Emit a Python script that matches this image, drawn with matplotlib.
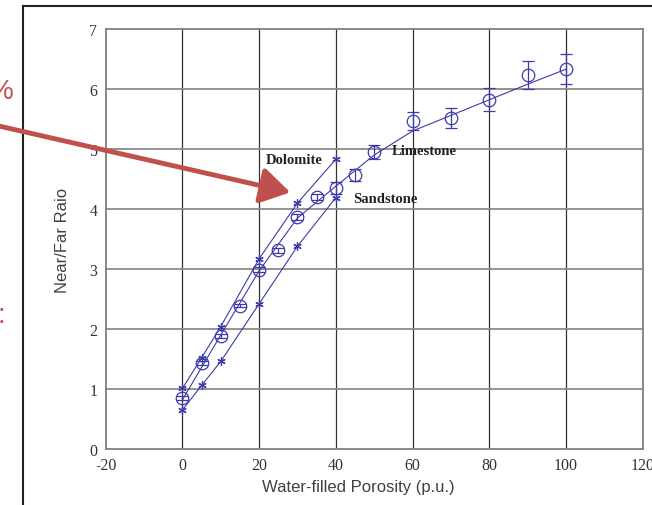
import matplotlib
matplotlib.use('Agg')
import matplotlib.pyplot as plt
from matplotlib.lines import Line2D
from matplotlib.patches import FancyArrowPatch

plt.rcParams['axes.unicode_minus'] = False

# data
lime_x = [0, 5, 10, 15, 20, 25, 30, 35, 40, 45, 50, 60, 70, 80, 90, 100]
lime_y = [0.85, 1.43, 1.88, 2.39, 2.99, 3.31, 3.87, 4.2, 4.35, 4.56, 4.95, 5.46, 5.52, 5.82, 6.23, 6.33]
lime_err = [0.03, 0.03, 0.03, 0.03, 0.04, 0.04, 0.05, 0.05, 0.1, 0.1, 0.12, 0.15, 0.17, 0.19, 0.23, 0.25]
lime_fit_x = [0, 10, 20, 30, 40, 50, 60, 70, 80, 90, 100]
lime_fit_y = [0.82, 1.9, 2.97, 3.85, 4.38, 4.9, 5.3, 5.56, 5.82, 6.08, 6.33]

dolo_x = [0, 5, 10, 20, 30, 40]
dolo_y = [1.01, 1.52, 2.04, 3.17, 4.1, 4.83]

sand_x = [0, 5, 10, 20, 30, 40]
sand_y = [0.65, 1.06, 1.46, 2.42, 3.38, 4.19]

xticks = [-20, 0, 20, 40, 60, 80, 100, 120]
yticks = [0, 1, 2, 3, 4, 5, 6, 7]

blue = '#3c3ca8'
red = '#c0504d'
W, H = 652, 506

fig = plt.figure(figsize=(W / 100, H / 100), dpi=100)
ax = fig.add_axes([105.7 / W, 1 - 450 / H, 537 / W, 420 / H])

ax.set_xlim(-20, 120)
ax.set_ylim(0, 7)
ax.set_xticks(xticks)
ax.set_yticks(yticks)
for v in xticks[1:-1]:
    ax.axvline(v, color='#333333', lw=0.9, zorder=1)
for v in yticks[1:-1]:
    ax.axhline(v, color='#8a8a8a', lw=1.3, zorder=1)
for s in ax.spines.values():
    s.set_color('#808080')
    s.set_linewidth(1.3)
ax.tick_params(length=0, pad=6, labelsize=11.5, labelcolor='#333333')
for lab in ax.get_xticklabels() + ax.get_yticklabels():
    lab.set_family('Liberation Serif')

# limestone
ax.plot(lime_fit_x, lime_fit_y, color=blue, lw=0.8, zorder=3)
ax.errorbar(lime_x, lime_y, yerr=lime_err, fmt='o', mfc='none', mec=blue,
            ms=9, mew=0.9, ecolor=blue, elinewidth=0.9, capsize=4.5,
            capthick=0.9, zorder=4)
# dolomite, sandstone
ax.plot(dolo_x, dolo_y, color=blue, lw=0.8, marker=(6, 2, 0), ms=6, mew=0.9, zorder=3)
ax.plot(sand_x, sand_y, color=blue, lw=0.8, marker=(6, 2, 0), ms=6, mew=0.9, zorder=3)

tfont = dict(family='Liberation Serif', weight='bold', size=10.5, color='#222222', va='center')
ax.text(21.6, 4.82, 'Dolomite', **tfont)
ax.text(54.7, 4.98, 'Limestone', **tfont)
ax.text(44.5, 4.17, 'Sandstone', **tfont)

ax.set_xlabel('Water-filled Porosity (p.u.)', family='Liberation Sans', size=12, color='#404040')
ax.set_ylabel('Near/Far Raio', family='Liberation Sans', size=12, color='#404040')
ax.xaxis.set_label_coords(0.47, -0.071)
ax.yaxis.set_label_coords(-0.066, 0.5)

# slide frame and pieces around it
fig.add_artist(Line2D([22.5 / W, 22.5 / W], [0, 1 - 7 / H], color='#222222', lw=1.5))
fig.add_artist(Line2D([22.5 / W, 1], [1 - 7 / H, 1 - 7 / H], color='#222222', lw=1.5))
fig.text(14 / W, 1 - 92 / H, '%', color=red, size=20, ha='right', va='center', family='Liberation Sans')
fig.text(5 / W, 1 - 316 / H, ':', color=red, size=20, ha='right', va='center', family='Liberation Sans')

arrow = FancyArrowPatch((-10 / W, 1 - 125 / H), (293 / W, 1 - 194 / H),
                        transform=fig.transFigure, arrowstyle='-|>,head_length=9,head_width=5.5',
                        color=red, lw=3.5, mutation_scale=2, zorder=10)
fig.add_artist(arrow)

fig.savefig('out.png', dpi=100)
